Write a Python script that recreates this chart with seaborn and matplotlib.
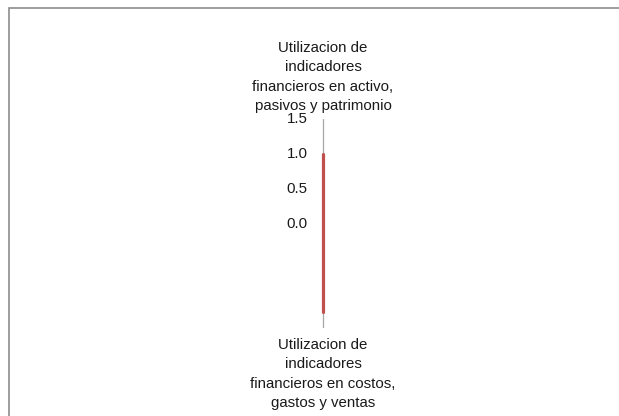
import numpy as np
import seaborn as sns
import matplotlib.pyplot as plt
from matplotlib.patches import Rectangle

categories = ["Utilizacion de\nindicadores\nfinancieros en activo,\npasivos y patrimonio",
              "Utilizacion de\nindicadores\nfinancieros en costos,\ngastos y ventas"]
values = [1.0, 1.27]
r_ticks = [0.0, 0.5, 1.0, 1.5]
r_max = 1.5

sns.set_style("white")
plt.rcParams['font.family'] = ['Liberation Sans', 'DejaVu Sans']

fig = plt.figure(figsize=(6.19, 4.16), dpi=100)
ax = fig.add_axes([0.3530, 0.2115, 0.3377, 0.5024], projection="polar")
ax.set_theta_zero_location("N")
ax.set_theta_direction(-1)

n = len(categories)
angles = [2 * np.pi * i / n for i in range(n)]
theta = angles + angles[:1]
radii = values + values[:1]

# spokes
for a in angles:
    ax.plot([a, a], [0, r_max], color="#a6a6a6", lw=0.9, zorder=1)

sns.lineplot(x=theta, y=radii, ax=ax, sort=False, color="#c0504d", lw=2.3, zorder=3)

ax.set_ylim(0, r_max)
ax.grid(False)
ax.spines["polar"].set_visible(False)
ax.set_xticks([])
ax.set_yticks([])
ax.set_xlabel("")
ax.set_ylabel("")

for t in r_ticks:
    ax.annotate(f"{t:.1f}", xy=(0, t), xytext=(-11, 0), textcoords="offset points",
                ha="right", va="center", fontsize=10.8, color="#1a1a1a")

ax.annotate(categories[0], xy=(angles[0], r_max), xytext=(0, 4), textcoords="offset points",
            ha="center", va="bottom", multialignment="center", fontsize=10.8,
            linespacing=1.5, color="#1a1a1a")
ax.annotate(categories[1], xy=(angles[1], r_max), xytext=(0, -7), textcoords="offset points",
            ha="center", va="top", multialignment="center", fontsize=10.8,
            linespacing=1.5, color="#1a1a1a")

fig.patches.append(Rectangle((9 / 619, -0.1), 1.0, 1.1 - 7.5 / 416, transform=fig.transFigure,
                             fill=False, edgecolor="#8c8c8c", lw=1.2))

fig.savefig("out.png", dpi=100)
